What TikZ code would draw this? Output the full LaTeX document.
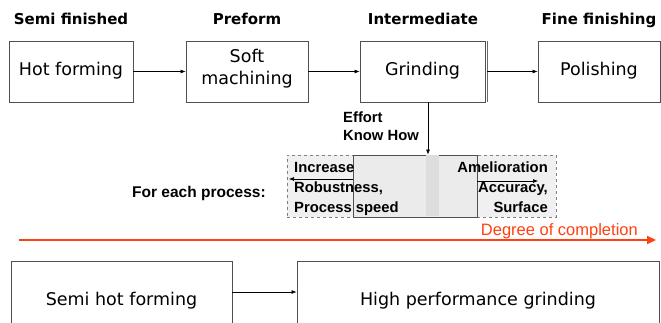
\documentclass[tikz,border=0pt]{standalone}
\usepackage{fontspec}
\setmainfont{DejaVu Sans}
\newfontfamily\arialf{Liberation Sans}
\usetikzlibrary{arrows.meta}
\definecolor{boxc}{HTML}{505050}
\definecolor{cfill}{HTML}{EBEBEB}
\definecolor{dfill}{HTML}{F0F0F0}
\definecolor{dline}{HTML}{808080}
\definecolor{stripec}{HTML}{DDDDDD}
\definecolor{redc}{HTML}{FF4010}
\begin{document}
\begin{tikzpicture}[x=1pt,y=-1pt,
  box/.style={draw=boxc, line width=0.9pt, inner sep=0pt},
  arr/.style={-{Latex[length=5pt,width=4pt]}, line width=0.6pt},
  hdr/.style={anchor=base, inner sep=0pt, font=\fontsize{15}{18}\selectfont\bfseries},
  btxt/.style={anchor=base, inner sep=0pt, font=\fontsize{17.5}{21}\selectfont},
  atxtl/.style={anchor=base west, inner sep=0pt, font=\arialf\fontsize{14.8}{17}\selectfont\bfseries},
  atxtr/.style={anchor=base east, inner sep=0pt, font=\arialf\fontsize{14.8}{17}\selectfont\bfseries},
  dbox/.style={draw=dline, dashed, fill=dfill, line width=0.8pt, inner sep=0pt},
]
\useasboundingbox (0,0) rectangle (661,323);
\clip (0,0) rectangle (661,323);

% headers
\node[hdr] (h1) at (71,25) {Semi finished};
\node[hdr] (h2) at (247,25) {Preform};
\node[hdr] (h3) at (423,25) {Intermediate};
\node[hdr] (h4) at (599,25) {Fine finishing};

% top boxes
\node[box, minimum width=124pt, minimum height=61pt] (hf) at (71,71.5) {};
\node[box, minimum width=122pt, minimum height=61pt] (sm) at (247,71.5) {};
\node[box, minimum width=125pt, minimum height=61pt] (gr) at (422.5,71.5) {};
\node[box, minimum width=122pt, minimum height=61pt] (po) at (599,71.5) {};
\draw[boxc!85, line width=0.9pt] ([xshift=1.8pt]gr.north east) -- ([xshift=1.8pt]gr.south east);

\node[btxt] (thf) at (71,76) {Hot forming};
\node[btxt] (tsm1) at (247,63) {Soft};
\node[btxt] (tsm2) at (247,85) {machining};
\node[btxt] (tgr) at (422.5,76) {Grinding};
\node[btxt] (tpo) at (599,76) {Polishing};

\draw[arr] (hf.east) -- (sm.west);
\draw[arr] (sm.east) -- (gr.west);
\draw[arr] ([xshift=1.8pt]gr.east) -- (po.west);

% effort
\node[atxtl] (eff) at (343,123) {Effort};
\node[atxtl] (kh) at (343,141) {Know How};

% process boxes
\node[dbox, minimum width=66pt, minimum height=62pt] (lb) at (320,186) {};
\node[dbox, minimum width=79pt, minimum height=62pt] (rb) at (516.5,186) {};
\node[box, fill=cfill, minimum width=124pt, minimum height=62pt] (cb) at (415,186) {};
\node[fill=stripec, inner sep=0pt, minimum width=13pt, minimum height=61pt] (st) at (432.5,186) {};

\coordinate (ax) at (428,0);
\draw[arr] (gr.south -| ax) -- (cb.north -| ax);

\coordinate (la) at (289,179);
\coordinate (ra) at (538,181);
\draw[arr] (cb.west |- la) -- (la);
\draw[arr] (cb.east |- ra) -- (ra);

\node[atxtl] (t1) at (294,173) {Increase};
\node[atxtl] (t2) at (294,193) {Robustness,};
\node[atxtl] (t3) at (294,212) {Process speed};
\node[atxtr] (t4) at (548,173) {Amelioration};
\node[atxtr] (t5) at (548,193) {Accuracy,};
\node[atxtr] (t6) at (548,212) {Surface};

\node[atxtl, font=\arialf\fontsize{15.5}{18}\selectfont\bfseries] (fep) at (132,198) {For each process:};

% degree of completion
\coordinate (rs) at (19,240);
\coordinate (re) at (656,240);
\draw[redc, line width=2.8pt, -{Triangle[length=9pt,width=8pt]}] (rs) -- (re);
\node[anchor=base east, inner sep=0pt, text=redc, font=\arialf\fontsize{16.5}{19}\selectfont] (doc) at (638,235) {Degree of completion};

% bottom boxes
\node[box, minimum width=221pt, minimum height=74pt] (shf) at (121.5,298) {};
\node[box, minimum width=362pt, minimum height=74pt] (hpg) at (478,298) {};
\node[btxt] (tshf) at (121.5,305) {Semi hot forming};
\node[btxt] (thpg) at (478,305) {High performance grinding};
\coordinate (ba) at (0,292);
\draw[arr] (shf.east |- ba) -- (hpg.west |- ba);
\end{tikzpicture}
\end{document}
